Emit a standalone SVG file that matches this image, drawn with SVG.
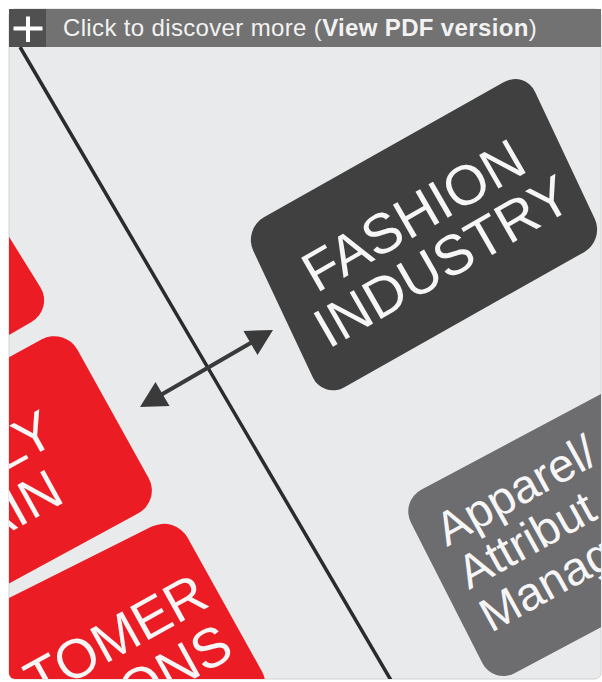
<svg xmlns="http://www.w3.org/2000/svg" width="602" height="682" viewBox="0 0 602 682">
<defs>
<style>
.lbl{font-family:"Liberation Sans",Arial,Helvetica,sans-serif;fill:#f6f6f6}
.big{font-size:56px}
.redt{font-size:55px}
.mid{font-size:47px}
.red{fill:#ec1c24}
.conn{stroke:#3a3a3a;stroke-width:4;fill:none}
</style>
<clipPath id="panel"><rect x="9" y="9" width="592" height="670" rx="6"/></clipPath>
<marker id="head" markerUnits="userSpaceOnUse" orient="auto-start-reverse" refX="0" refY="0" markerWidth="40" markerHeight="40" overflow="visible">
<path d="M20,0 L-6,-14 L-6,14 Z" fill="#3a3a3a"/>
</marker>
</defs>
<rect width="602" height="682" fill="#ffffff"/>
<rect x="9" y="9" width="592" height="670" rx="6" fill="#e9eaeb" stroke="#d3d3d3"/>
<g clip-path="url(#panel)">
<g id="node-red1">
<rect width="200" height="200" rx="26" class="red" transform="matrix(0.865,-0.5,0.53,0.85,-225,239)"/>
</g>
<g id="node-red2">
<rect width="300" height="199" rx="26" class="red" transform="matrix(0.879,-0.477,0.485,0.874,-199,470)"/>
<text class="lbl redt" text-anchor="end" transform="translate(58.6,441.7) rotate(-29)">LY</text>
<text class="lbl redt" text-anchor="end" transform="translate(66.4,501.1) rotate(-29)">AIN</text>
</g>
<g id="node-red3">
<rect width="300" height="205" rx="26" class="red" transform="matrix(0.894,-0.447,0.486,0.874,-93.2,649.1)"/>
<text class="lbl redt" text-anchor="end" transform="translate(211.4,605.2) rotate(-29)">TOMER</text>
<text class="lbl redt" text-anchor="end" transform="translate(236,655.4) rotate(-29)">ONS</text>
</g>
<g id="node-fashion">
<rect width="324" height="188" rx="24" fill="#404040" transform="matrix(0.87,-0.49,0.426,0.905,243,229)"/>
<text class="lbl big" text-anchor="middle" transform="translate(423,232) rotate(-30)">FASHION</text>
<text class="lbl big" text-anchor="middle" transform="translate(452,278) rotate(-30)">INDUSTRY</text>
</g>
<g id="node-apparel">
<rect width="300" height="206" rx="24" fill="#6d6c6f" transform="matrix(0.882,-0.47,0.453,0.891,400,501)"/>
<text class="lbl mid" transform="translate(447,547) rotate(-29)">Apparel/</text>
<text class="lbl mid" transform="translate(469,590) rotate(-29)">Attribut</text>
<text class="lbl mid" transform="translate(491,633) rotate(-29)">Manag</text>
</g>
<g id="divider">
<line x1="20" y1="47" x2="392" y2="682" stroke="#2b2b2b" stroke-width="3.5"/>
</g>
<g id="connectors">
<line class="conn" x1="157.3" y1="397" x2="255.7" y2="340" marker-start="url(#head)" marker-end="url(#head)"/>
</g>
</g>
<g id="header">
<rect x="9" y="9" width="592" height="38" fill="#727272"/>
<rect x="9" y="9" width="37" height="38" fill="#505050"/>
<path d="M13.5,28.5 H42.5 M28,16.5 V42" stroke="#ffffff" stroke-width="4"/>
<text x="63" y="36" font-family="'Liberation Sans',Arial,sans-serif" font-size="24" letter-spacing="0.35" fill="#f2f2f2">Click to discover more (<tspan font-weight="bold">View PDF version</tspan>)</text>
</g>
</svg>
